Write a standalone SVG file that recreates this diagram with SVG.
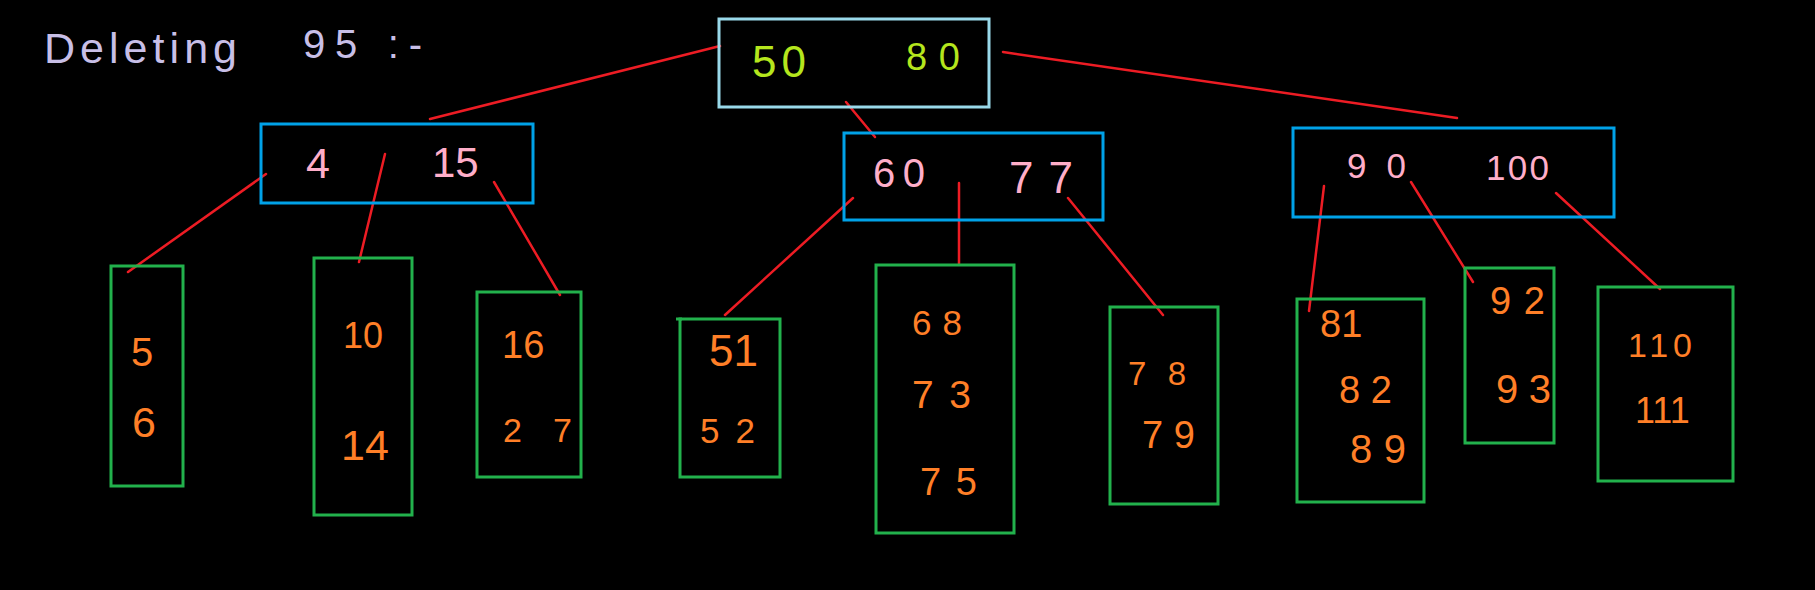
<svg xmlns="http://www.w3.org/2000/svg" width="1815" height="590" viewBox="0 0 1815 590">
<style>
.bg{fill:#000}
.root{fill:none;stroke:#99d9ea;stroke-width:3}
.inner{fill:none;stroke:#00a2e8;stroke-width:3}
.leaf{fill:none;stroke:#22b14c;stroke-width:3}
.edge{stroke:#ed1c24;stroke-width:2.5;stroke-linecap:round;fill:none}
text{font-family:"Liberation Sans","DejaVu Sans",sans-serif}
.tr{fill:#b5e61d}
.ti{fill:#ffaec9}
.tl{fill:#ff7f27}
.title{fill:#c8bfe7}
</style>
<rect class="bg" x="0" y="0" width="1815" height="590"/>
<g id="title">
<text class="title" x="44" y="63" font-size="43" textLength="193">Deleting</text>
<text class="title" x="303" y="58" font-size="40" textLength="119">95 :-</text>
</g>
<g id="connectors">
<line class="edge" x1="430" y1="119" x2="720" y2="46"/>
<line class="edge" x1="1003" y1="52" x2="1457" y2="118"/>
<line class="edge" x1="846" y1="102" x2="875" y2="137"/>
<line class="edge" x1="266" y1="174" x2="128" y2="272"/>
<line class="edge" x1="385" y1="154" x2="359" y2="262"/>
<line class="edge" x1="494" y1="182" x2="560" y2="295"/>
<line class="edge" x1="853" y1="198" x2="725" y2="315"/>
<line class="edge" x1="959" y1="183" x2="959" y2="264"/>
<line class="edge" x1="1068" y1="198" x2="1163" y2="315"/>
<line class="edge" x1="1324" y1="186" x2="1309" y2="311"/>
<line class="edge" x1="1411" y1="182" x2="1473" y2="282"/>
<line class="edge" x1="1556" y1="193" x2="1660" y2="289"/>
</g>
<g id="node-root">
<rect class="root" x="719" y="19" width="270" height="88"/>
<text class="tr" x="752" y="77" font-size="44" textLength="54">50</text>
<text class="tr" x="906" y="70" font-size="38" textLength="54">80</text>
</g>
<g id="node-4-15">
<rect class="inner" x="261" y="124" width="272" height="79"/>
<text class="ti" x="306" y="178" font-size="43">4</text>
<text class="ti" x="432" y="177" font-size="42">15</text>
</g>
<g id="node-60-77">
<rect class="inner" x="844" y="133" width="259" height="87"/>
<text class="ti" x="873" y="187" font-size="40" textLength="52">60</text>
<text class="ti" x="1009" y="193" font-size="44" textLength="64">77</text>
</g>
<g id="node-90-100">
<rect class="inner" x="1293" y="128" width="321" height="89"/>
<text class="ti" x="1347" y="178" font-size="35" textLength="59">90</text>
<text class="ti" x="1486" y="180" font-size="35" textLength="63">100</text>
</g>
<g id="leaf-5-6">
<rect class="leaf" x="111" y="266" width="72" height="220"/>
<text class="tl" x="131" y="366" font-size="40">5</text>
<text class="tl" x="132" y="437" font-size="43">6</text>
</g>
<g id="leaf-10-14">
<rect class="leaf" x="314" y="258" width="98" height="257"/>
<text class="tl" x="343" y="348" font-size="36">10</text>
<text class="tl" x="341" y="460" font-size="43">14</text>
</g>
<g id="leaf-16-27">
<rect class="leaf" x="477" y="292" width="104" height="185"/>
<text class="tl" x="502" y="358" font-size="38">16</text>
<text class="tl" x="503" y="442" font-size="34" textLength="69">27</text>
</g>
<g id="leaf-51-52">
<rect class="leaf" x="680" y="319" width="100" height="158"/>
<line x1="676" y1="319" x2="682" y2="319" stroke="#22b14c" stroke-width="3"/>
<text class="tl" x="709" y="366" font-size="44">51</text>
<text class="tl" x="700" y="443" font-size="35" textLength="55">52</text>
</g>
<g id="leaf-68-73-75">
<rect class="leaf" x="876" y="265" width="138" height="268"/>
<text class="tl" x="912" y="335" font-size="35" textLength="50">68</text>
<text class="tl" x="912" y="408" font-size="39" textLength="59">73</text>
<text class="tl" x="920" y="495" font-size="38" textLength="57">75</text>
</g>
<g id="leaf-78-79">
<rect class="leaf" x="1110" y="307" width="108" height="197"/>
<text class="tl" x="1128" y="385" font-size="33" textLength="58">78</text>
<text class="tl" x="1142" y="448" font-size="38" textLength="53">79</text>
</g>
<g id="leaf-81-82-89">
<rect class="leaf" x="1297" y="299" width="127" height="203"/>
<text class="tl" x="1320" y="337" font-size="38">81</text>
<text class="tl" x="1339" y="403" font-size="38" textLength="53">82</text>
<text class="tl" x="1350" y="463" font-size="40" textLength="56">89</text>
</g>
<g id="leaf-92-93">
<rect class="leaf" x="1465" y="268" width="89" height="175"/>
<text class="tl" x="1490" y="314" font-size="38" textLength="55">92</text>
<text class="tl" x="1496" y="403" font-size="40" textLength="55">93</text>
</g>
<g id="leaf-110-111">
<rect class="leaf" x="1598" y="287" width="135" height="194"/>
<text class="tl" x="1628" y="357" font-size="34" textLength="64">110</text>
<text class="tl" x="1635" y="423" font-size="36">111</text>
</g>
</svg>
